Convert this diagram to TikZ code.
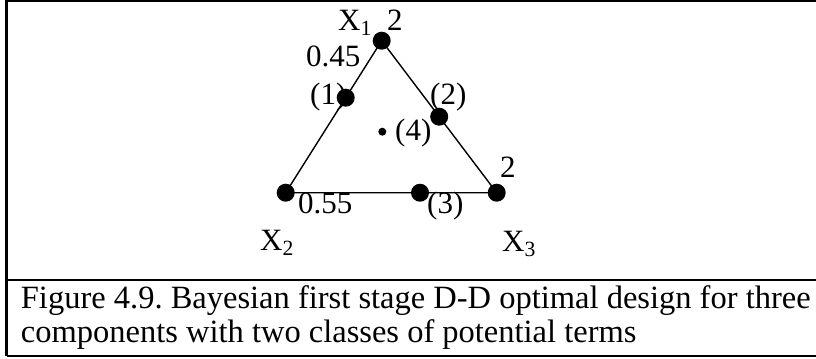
\documentclass[tikz,border=0pt]{standalone}
\usepackage{fontspec}
\setmainfont{Liberation Serif}
\usetikzlibrary{calc}
\frenchspacing
\begin{document}
\begin{tikzpicture}[x=1bp,y=-1bp,
  frame/.style={line width=2.2bp},
  edge/.style={line width=1.4bp},
  bigdot/.style={circle,fill=black,inner sep=0pt,minimum size=18bp},
  smalldot/.style={circle,fill=black,inner sep=0pt,minimum size=8bp},
  lbl/.style={inner sep=0pt,anchor=base west,font=\fontsize{31bp}{33bp}\selectfont},
  captext/.style={inner sep=0pt,anchor=base west,font=\fontsize{32.5bp}{33bp}\selectfont}]
\useasboundingbox (0,0) rectangle (816,358);
% frame
\draw[frame] (6.5,356) -- (6.5,1) -- (816,1);
\draw[frame] (6.5,280) -- (816,280);
\draw[frame] (6.5,356) -- (816,356);
% vertices
\coordinate (v1) at (381.7,40.7);
\coordinate (v2) at (285.7,192.7);
\coordinate (v3) at (496.7,192.7);
\draw[edge] (v1) -- (v2) -- (v3) -- cycle;
\node[bigdot] (d1) at (v1) {};
\node[bigdot] (d2) at (v2) {};
\node[bigdot] (d3) at (v3) {};
\node[bigdot] (p1) at ($(v1)!0.375!(v2)$) {};
\node[bigdot] (p2) at ($(v1)!0.5!(v3)$) {};
\node[bigdot] (p3) at (420,192.7) {};
\node[smalldot] (p4) at (382.3,131.7) {};
% labels
\node[lbl] (lx1) at (338,30) {X\textsubscript{1}};
\node[lbl] (l2a) at (387,30) {2};
\node[lbl] (l045) at (306,66) {0.45};
\node[lbl] (l1) at (310,104) {(1)};
\node[lbl] (l2) at (430,104) {(2)};
\node[lbl] (l4) at (395,140) {(4)};
\node[lbl] (l2b) at (500,177) {2};
\node[lbl] (l055) at (298,213) {0.55};
\node[lbl] (l3) at (427,213) {(3)};
\node[lbl] (lx2) at (260,250) {X\textsubscript{2}};
\node[lbl] (lx3) at (502,251) {X\textsubscript{3}};
% caption
\node[captext] (c1) at (20.7,308) {Figure 4.9. Bayesian first stage D-D optimal design for three};
\node[captext] (c2) at (20.7,342) {components with two classes of potential terms};
\end{tikzpicture}
\end{document}
